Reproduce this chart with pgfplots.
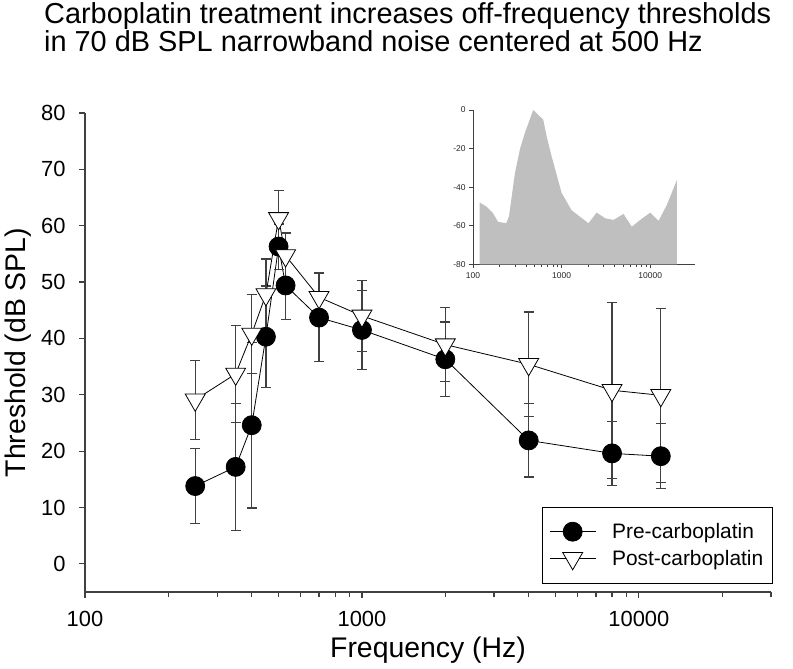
\documentclass[border=0pt]{standalone}
\usepackage{fontspec}
\setmainfont{Liberation Sans}
\usepackage{pgfplots}
\usepackage{pgfplotstable}
\pgfplotsset{compat=1.18}

% frequency (Hz), threshold (dB SPL), error
\pgfplotstableread{
f v e
250 13.8 6.7
350 17.2 11.3
400 24.6 14.7
450 40.3 9.0
500 56.3 4.0
530 49.4 6.1
700 43.7 7.8
1000 41.5 7.0
2000 36.3 6.6
4000 21.9 6.5
8000 19.6 5.7
12000 19.1 5.8
}\pre
\pgfplotstableread{
f v e
250 29.1 7.0
350 33.7 8.6
400 40.8 7.0
450 47.8 6.3
500 61.3 4.9
530 54.7 4.0
700 47.3 4.4
1000 44.0 6.3
2000 38.9 6.6
4000 35.4 9.3
8000 30.8 15.6
12000 29.9 15.4
}\post
% noise spectrum for the inset
\pgfplotstableread{
f v
119 -80
119 -48
141 -50
168 -53.5
192 -58
238 -58.7
255 -55
297 -32.8
340 -20
384 -12
478 0
620 -5
680 -14
771 -24
1000 -43
1297 -52
1683 -56
2005 -58.7
2490 -53.2
3090 -56.1
3846 -57
4990 -53.9
6200 -60.5
7700 -57
10000 -53.2
12400 -57.5
15400 -49.2
20000 -36.3
20000 -80
}\spec

\definecolor{axgray}{HTML}{404040}
\definecolor{specgray}{HTML}{BFBFBF}

\begin{document}
\begin{tikzpicture}
\useasboundingbox (0bp,0bp) rectangle (793bp,669bp);
\node[anchor=base west, inner sep=0pt, font=\fontsize{29}{29}\selectfont] at (44bp,645bp) {Carboplatin treatment increases off-frequency thresholds};
\node[anchor=base west, inner sep=0pt, font=\fontsize{29}{29}\selectfont] at (44bp,617bp) {in 70 dB SPL narrowband noise centered at 500 Hz};

\begin{axis}[
  at={(85bp,77bp)}, anchor=south west,
  scale only axis, width=686bp, height=479bp,
  xmode=log, xmin=100, xmax=30000, ymin=-5, ymax=80,
  axis lines=left, axis line style={-, axgray, line width=1.2bp},
  tick align=outside, tick style={axgray, line width=1.2bp},
  major tick length=6bp, minor tick length=5bp,
  xtick={100,1000,10000}, xticklabels={100,1000,10000},
  minor xtick={200,300,400,500,600,700,800,900,2000,3000,4000,5000,6000,7000,8000,9000,20000,30000},
  ytick={0,10,...,80},
  /pgf/number format/assume math mode=true,
  tick label style={font=\fontsize{22}{22}\selectfont},
  xticklabel style={yshift=-10bp},
  yticklabel style={xshift=-10bp},
  xlabel={Frequency (Hz)}, ylabel={Threshold (dB SPL)},
  label style={font=\fontsize{28.5}{28.5}\selectfont},
  xlabel style={at={(axis description cs:0.5,0)}, anchor=center, yshift=-58bp},
  ylabel style={at={(axis description cs:-0.097,0.5)}, anchor=center},
  clip=false,
  error bars/error mark=|,
  error bars/error bar style={axgray, line width=1.2bp},
  error bars/error mark options={axgray, line width=1.2bp, mark size=5bp},
  legend style={at={(rel axis cs:0.666,0.1775)}, anchor=north west, draw=black, line width=0.8bp,
    font=\fontsize{21}{21}\selectfont, inner xsep=7bp, inner ysep=14bp, row sep=6bp,
    column sep=14bp, cells={anchor=west}},
  legend image code/.code={\draw[mark repeat=2,mark phase=2] plot coordinates {(0bp,0bp) (23bp,0bp) (46bp,0bp)};},
]
\addplot[black, line width=0.8bp, mark=*, mark size=9.5bp, mark options={fill=black, line width=0.8bp},
  error bars/.cd, y dir=both, y explicit] table[x=f, y=v, y error=e] {\pre};
\addlegendentry{Pre-carboplatin}
\addplot[black, line width=0.8bp, mark=triangle*, mark size=11.5bp, mark options={fill=white, draw=black, rotate=180, line width=0.8bp},
  error bars/.cd, y dir=both, y explicit] table[x=f, y=v, y error=e] {\post};
\addlegendentry{Post-carboplatin}
\end{axis}

\begin{axis}[
  at={(473bp,404.7bp)}, anchor=south west,
  scale only axis, width=222bp, height=154.3bp,
  xmode=log, xmin=100, xmax=32000, ymin=-80, ymax=0,
  axis lines=left, axis line style={-, axgray, line width=1bp},
  tick align=outside, tick style={axgray, line width=1bp},
  major tick length=4bp,
  xtick={100,1000,10000}, xticklabels={100,1000,10000}, minor xtick={},
  ytick={0,-20,-40,-60,-80},
  /pgf/number format/assume math mode=true,
  tick label style={font=\fontsize{8.5}{8.5}\selectfont, text=black!85},
  xticklabel style={yshift=-1bp},
]
\addplot[fill=specgray, draw=none] table[x=f, y=v] {\spec};
\end{axis}
\end{tikzpicture}
\end{document}
